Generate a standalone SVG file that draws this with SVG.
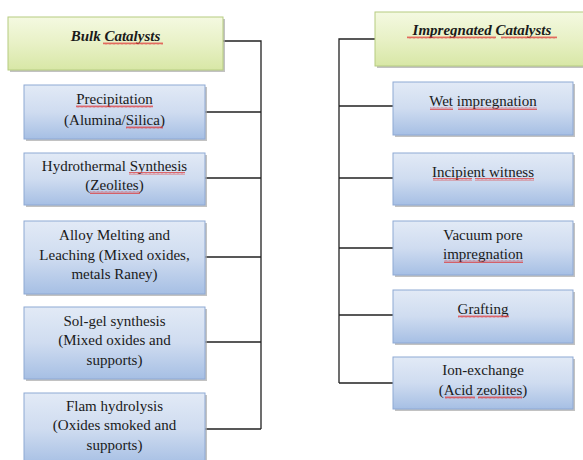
<svg xmlns="http://www.w3.org/2000/svg" width="583" height="460" viewBox="0 0 583 460">
<defs>
<linearGradient id="gBlue" x1="0" y1="0" x2="0" y2="1">
<stop offset="0" stop-color="#e2eaf6"/>
<stop offset="0.5" stop-color="#cfdcf0"/>
<stop offset="1" stop-color="#a6bfe4"/>
</linearGradient>
<linearGradient id="gGreen" x1="0" y1="0" x2="0" y2="1">
<stop offset="0" stop-color="#f4f9e1"/>
<stop offset="0.5" stop-color="#e8f1c6"/>
<stop offset="1" stop-color="#d8e7a6"/>
</linearGradient>
<pattern id="wavy" width="4" height="3" patternUnits="userSpaceOnUse">
<path d="M0,2.5 L1,0.5 L2,2.5 L3,0.5 L4,2.5" fill="none" stroke="#e03030" stroke-width="0.7"/>
</pattern>
</defs>
<style>
.shadow{fill:#a8a8a8;opacity:0.7}
.blue{fill:url(#gBlue);stroke:#8ea9d4;stroke-width:1}
.green{fill:url(#gGreen);stroke:#b6cc80;stroke-width:1}
.t{font-family:'Liberation Serif','Times New Roman',serif;font-size:15px;fill:#1a1a1a;text-anchor:middle}
.h{font-family:'Liberation Serif','Times New Roman',serif;font-size:15px;font-weight:bold;font-style:italic;fill:#1a1a1a;text-anchor:middle}
.conn{fill:none;stroke:#222;stroke-width:1.3}
.w{fill:url(#wavy)}
</style>
<rect width="583" height="460" fill="#ffffff"/>
<g id="connectors">
<path class="conn" d="M223,41 H261 V429 M205,112 H261 M205,178 H261 M205,257 H261 M205,342 H261 M205,429 H261"/>
<path class="conn" d="M375,39 H339 V383 M393,106 H339 M393,178 H339 M393,248 H339 M393,315 H339 M393,383 H339"/>
</g>
<g id="bulk">
<rect class="shadow" x="10" y="19" width="215" height="53"/>
<rect class="green" x="8" y="17" width="215" height="53"/>
<text class="h" x="115.5" y="41">Bulk Catalysts</text>
<rect class="w" x="103" y="42" width="60" height="3"/>
</g>
<g id="precipitation">
<rect class="shadow" x="26" y="87" width="181" height="54"/>
<rect class="blue" x="24" y="85" width="181" height="54"/>
<text class="t" x="114.5" y="104">Precipitation</text>
<text class="t" x="114.5" y="125">(Alumina/Silica)</text>
<rect class="w" x="76" y="105" width="77" height="3"/>
<rect class="w" x="126" y="126" width="37" height="3"/>
</g>
<g id="hydrothermal">
<rect class="shadow" x="26" y="155" width="181" height="52"/>
<rect class="blue" x="24" y="153" width="181" height="52"/>
<text class="t" x="114.5" y="171">Hydrothermal Synthesis</text>
<text class="t" x="114.5" y="190">(Zeolites)</text>
<rect class="w" x="129" y="172" width="56" height="3"/>
<rect class="w" x="90" y="191" width="50" height="3"/>
</g>
<g id="alloy">
<rect class="shadow" x="26" y="223" width="181" height="73"/>
<rect class="blue" x="24" y="221" width="181" height="73"/>
<text class="t" x="114.5" y="240">Alloy Melting and</text>
<text class="t" x="114.5" y="260">Leaching (Mixed oxides,</text>
<text class="t" x="114.5" y="279">metals Raney)</text>
</g>
<g id="solgel">
<rect class="shadow" x="26" y="309" width="181" height="72"/>
<rect class="blue" x="24" y="307" width="181" height="72"/>
<text class="t" x="114.5" y="326">Sol-gel synthesis</text>
<text class="t" x="114.5" y="345">(Mixed oxides and</text>
<text class="t" x="114.5" y="365">supports)</text>
</g>
<g id="flam">
<rect class="shadow" x="26" y="395" width="181" height="72"/>
<rect class="blue" x="24" y="393" width="181" height="72"/>
<text class="t" x="114.5" y="411">Flam hydrolysis</text>
<text class="t" x="114.5" y="430">(Oxides smoked and</text>
<text class="t" x="114.5" y="450">supports)</text>
</g>
<g id="impregnated">
<rect class="shadow" x="377" y="14" width="215" height="54"/>
<rect class="green" x="375" y="12" width="215" height="54"/>
<text class="h" x="482" y="35">Impregnated Catalysts</text>
<rect class="w" x="407" y="36" width="89" height="3"/>
<rect class="w" x="501" y="36" width="56" height="3"/>
</g>
<g id="wet">
<rect class="shadow" x="395" y="84" width="180" height="53"/>
<rect class="blue" x="393" y="82" width="180" height="53"/>
<text class="t" x="483" y="106">Wet impregnation</text>
<rect class="w" x="430" y="107" width="23" height="3"/>
<rect class="w" x="458" y="107" width="79" height="3"/>
</g>
<g id="incipient">
<rect class="shadow" x="395" y="155" width="180" height="52"/>
<rect class="blue" x="393" y="153" width="180" height="52"/>
<text class="t" x="483" y="177">Incipient witness</text>
<rect class="w" x="433" y="178" width="39" height="3"/>
<rect class="w" x="475" y="178" width="59" height="3"/>
</g>
<g id="vacuum">
<rect class="shadow" x="395" y="223" width="180" height="54"/>
<rect class="blue" x="393" y="221" width="180" height="54"/>
<text class="t" x="483" y="240">Vacuum pore</text>
<text class="t" x="483" y="259">impregnation</text>
<rect class="w" x="444" y="260" width="79" height="3"/>
</g>
<g id="grafting">
<rect class="shadow" x="395" y="292" width="180" height="53"/>
<rect class="blue" x="393" y="290" width="180" height="53"/>
<text class="t" x="483" y="314">Grafting</text>
<rect class="w" x="458" y="315" width="51" height="3"/>
</g>
<g id="ionexchange">
<rect class="shadow" x="395" y="359" width="180" height="52"/>
<rect class="blue" x="393" y="357" width="180" height="52"/>
<text class="t" x="483" y="375">Ion-exchange</text>
<text class="t" x="483" y="395">(Acid zeolites)</text>
<rect class="w" x="445" y="396" width="30" height="3"/>
<rect class="w" x="478" y="396" width="44" height="3"/>
</g>
</svg>
